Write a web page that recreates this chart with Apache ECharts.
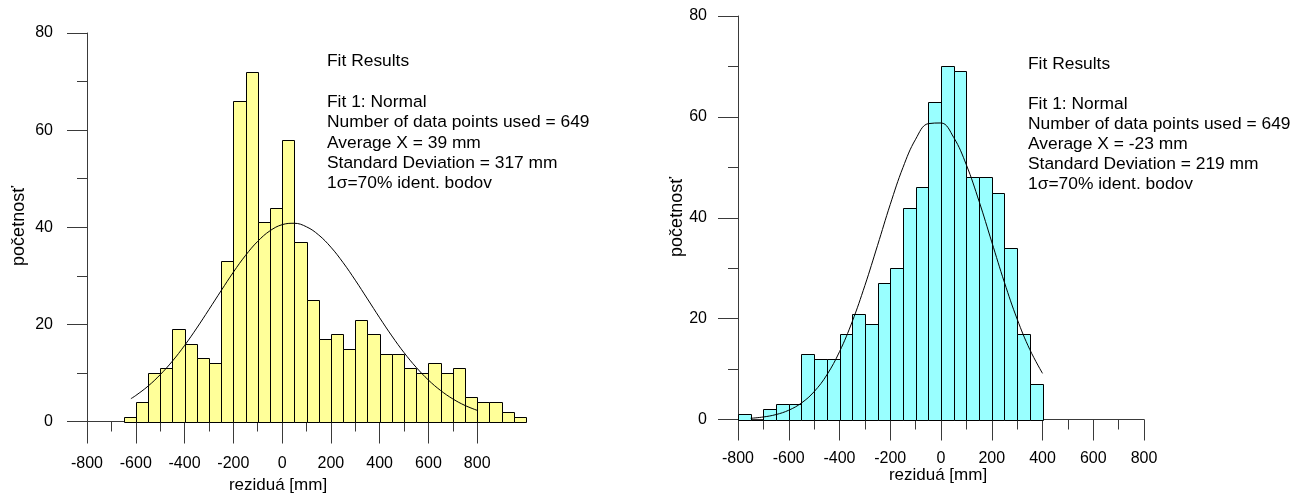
<!DOCTYPE html>
<html>
<head>
<meta charset="utf-8">
<script src="https://cdn.jsdelivr.net/npm/echarts@6/dist/echarts.min.js"></script>
<style>
html,body{margin:0;padding:0;background:#fff;}
#c{width:1293px;height:493px;}
</style>
</head>
<body>
<div id="c"></div>
<script>
// ---- data ----
const leftBinEdges = [-650,-600,-550,-500,-450,-400,-350,-300,-250,-200,-150,-100,-50,0,50,100,150,200,250,300,350,400,450,500,550,600,650,700,750,800,850,900,950,1000];
const leftCounts = [1,4,10,11,19,16,13,12,33,66,72,41,44,58,37,25,17,18,15,21,18,14,14,11,10,12,10,11,5,4,4,2,1];
const leftCurveX = [-620,-600,-550,-500,-450,-400,-350,-300,-250,-200,-150,-100,-50,0,50,100,150,200,250,300,350,400,450,500,550,600,650,700,750,800];
const leftCurveY = [4.7,5.35,7.27,9.63,12.42,15.65,19.24,23.06,26.94,30.74,34.2,37.1,39.26,40.53,40.82,40.09,38.41,35.9,32.72,29.1,25.24,21.35,17.62,14.18,11.14,8.53,6.38,4.65,3.3,2.29];

const rightBinEdges = [-800,-750,-700,-650,-600,-550,-500,-450,-400,-350,-300,-250,-200,-150,-100,-50,0,50,100,150,200,250,300,350,400];
const rightCounts = [1,0,2,3,3,13,12,12,17,21,19,27,30,42,46,63,70,69,48,48,45,34,17,7];
const rightCurveX = [-750,-700,-650,-600,-550,-500,-450,-400,-350,-300,-250,-200,-150,-100,-50,0,50,100,150,200,250,300,350,400];
const rightCurveY = [0.24,0.5,0.98,1.84,3.27,5.52,8.83,13.44,19.39,26.56,34.53,42.64,49.95,55.57,58.66,58.79,55.92,50.48,43.27,35.21,27.17,19.92,13.87,9.15];

const leftXTicks = [-800,-600,-400,-200,0,200,400,600,800];
const leftXMinorTicks = [-700,-500,-300,-100,100,300,500,700];
const yTickLabels = [0,20,40,60,80];

const leftText = ['Fit Results','','Fit 1: Normal','Number of data points used = 649','Average X = 39 mm','Standard Deviation = 317 mm','1σ=70% ident. bodov'];
const rightText = ['Fit Results','','Fit 1: Normal','Number of data points used = 649','Average X = -23 mm','Standard Deviation = 219 mm','1σ=70% ident. bodov'];
const yName = 'početnosť';
const xName = 'reziduá [mm]';

// ---- chart ----
const FONT = '"Liberation Sans", Arial, sans-serif';
const AX = '#3a3a3a';

function bins(edges, counts){
  return counts.map((c,i)=>[edges[i], edges[i+1], c]);
}
function pairs(xs, ys){ return xs.map((x,i)=>[x, ys[i]]); }

function histItem(fill){
  return function(params, api){
    const p0 = api.coord([api.value(0), api.value(2)]);
    const p1 = api.coord([api.value(1), 0]);
    return {type:'rect', shape:{x:Math.round(p0[0])+0.5, y:Math.round(p0[1])+0.5, width:Math.round(p1[0])-Math.round(p0[0]), height:Math.round(p1[1])-Math.round(p0[1])},
      style:{fill:fill, stroke:'#000', lineWidth:1}};
  };
}

function yAxisCfg(grid, margin){
  return {type:'value', gridIndex:grid, min:0, max:80, interval:20,
    axisLine:{show:true, onZero:false, lineStyle:{color:AX, width:1}},
    axisTick:{show:true, length:20, lineStyle:{color:AX}},
    minorTick:{show:true, splitNumber:2, length:10, lineStyle:{color:AX}},
    splitLine:{show:false}, minorSplitLine:{show:false},
    axisLabel:{margin:margin, fontSize:16, color:'#000', fontFamily:FONT,
      customValues: yTickLabels}
  };
}

const chart = echarts.init(document.getElementById('c'), null, {renderer:'canvas'});
chart.setOption({
  animation:false,
  backgroundColor:'#fff',
  grid:[
    {left:87, top:33, width:439, height:388.5},
    {left:738, top:16, width:406, height:403.5}
  ],
  xAxis:[
    {type:'value', gridIndex:0, min:-800, max:1000,
      axisLine:{show:true, onZero:false, lineStyle:{color:AX, width:1}},
      axisTick:{show:true, length:22, lineStyle:{color:AX}, customValues:leftXTicks},
      axisLabel:{margin:34, fontSize:16, color:'#000', fontFamily:FONT, customValues:leftXTicks},
      splitLine:{show:false}},
    {type:'value', gridIndex:0, min:-800, max:1000, position:'bottom',
      axisLine:{show:false, onZero:false},
      axisTick:{show:true, length:10, lineStyle:{color:AX}, customValues:leftXMinorTicks},
      axisLabel:{show:false}, splitLine:{show:false}},
    {type:'value', gridIndex:1, min:-800, max:800, interval:200,
      axisLine:{show:true, onZero:false, lineStyle:{color:AX, width:1}},
      axisTick:{show:true, length:21, lineStyle:{color:AX}},
      minorTick:{show:true, splitNumber:2, length:10, lineStyle:{color:AX}},
      axisLabel:{margin:31, fontSize:16, color:'#000', fontFamily:FONT, showMinLabel:true, showMaxLabel:true},
      splitLine:{show:false}}
  ],
  yAxis:[ yAxisCfg(0, 34), yAxisCfg(1, 31) ],
  series:[
    {type:'custom', xAxisIndex:0, yAxisIndex:0, renderItem:histItem('#FFFF99'),
      encode:{x:[0,1], y:2}, data:bins(leftBinEdges, leftCounts), z:2},
    {type:'line', xAxisIndex:0, yAxisIndex:0, data:pairs(leftCurveX, leftCurveY), smooth:0.4,
      showSymbol:false, symbol:'none', lineStyle:{color:'#000', width:1}, z:3},
    {type:'custom', xAxisIndex:2, yAxisIndex:1, renderItem:histItem('#99FFFF'),
      encode:{x:[0,1], y:2}, data:bins(rightBinEdges, rightCounts), z:2},
    {type:'line', xAxisIndex:2, yAxisIndex:1, data:pairs(rightCurveX, rightCurveY), smooth:0.4,
      showSymbol:false, symbol:'none', lineStyle:{color:'#000', width:1}, z:3}
  ],
  graphic:[
    {type:'text', x:327, y:51.5, z:10, style:{text:leftText.join('\n'), fontSize:17.4, fontFamily:FONT, lineHeight:20.3, fill:'#000'}},
    {type:'text', x:1028, y:54.5, z:10, style:{text:rightText.join('\n'), fontSize:17.4, fontFamily:FONT, lineHeight:20, fill:'#000'}},
    {type:'text', x:19, y:226, rotation:Math.PI/2, z:10, style:{text:yName, fontSize:18, fontFamily:FONT, fill:'#000', align:'center', verticalAlign:'middle'}},
    {type:'text', x:677, y:217, rotation:Math.PI/2, z:10, style:{text:yName, fontSize:18, fontFamily:FONT, fill:'#000', align:'center', verticalAlign:'middle'}},
    {type:'text', x:278, y:485, z:10, style:{text:xName, fontSize:17, fontFamily:FONT, fill:'#000', align:'center', verticalAlign:'middle'}},
    {type:'text', x:938, y:475, z:10, style:{text:xName, fontSize:17, fontFamily:FONT, fill:'#000', align:'center', verticalAlign:'middle'}}
  ]
});
</script>
</body>
</html>
